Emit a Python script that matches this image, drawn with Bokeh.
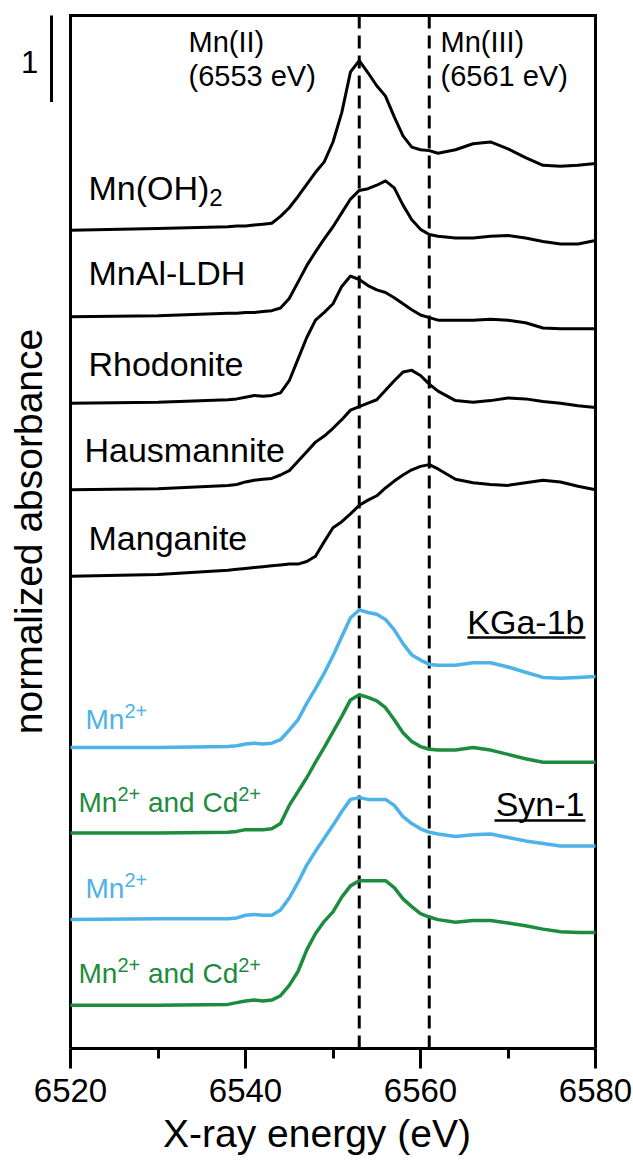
import numpy as np
from bokeh.plotting import figure
from bokeh.models import Range1d, FixedTicker
from bokeh.core.properties import value
from bokeh.embed import file_html
from bokeh.resources import INLINE

# ---------------- data ----------------
energy = [6520, 6530, 6538, 6539, 6540, 6541, 6542, 6543, 6544, 6545, 6546, 6547,
          6548, 6549, 6550, 6551, 6552, 6553, 6554, 6555, 6556, 6557, 6558, 6559,
          6560, 6561, 6562, 6564, 6566, 6568, 6570, 6572, 6574, 6576, 6578, 6580]

mn_oh2 = [-0.04, -0.02, 0.00, 0.01, 0.01, 0.02, 0.03, 0.04, 0.12, 0.22, 0.35, 0.49,
          0.63, 0.75, 0.98, 1.32, 1.79, 1.92, 1.78, 1.63, 1.51, 1.27, 1.05, 0.92,
          0.89, 0.88, 0.85, 0.89, 0.96, 0.98, 0.90, 0.80, 0.71, 0.70, 0.71, 0.73]
mnal_ldh = [-0.04, -0.03, 0.00, 0.00, 0.01, 0.01, 0.02, 0.03, 0.06, 0.17, 0.36, 0.55,
            0.71, 0.86, 1.00, 1.16, 1.32, 1.42, 1.44, 1.48, 1.53, 1.45, 1.25, 1.08,
            0.97, 0.91, 0.89, 0.87, 0.87, 0.89, 0.90, 0.87, 0.83, 0.80, 0.80, 0.84]
rhodonite = [-0.04, -0.03, 0.00, 0.01, 0.03, 0.05, 0.04, 0.05, 0.08, 0.22, 0.47, 0.72,
             0.92, 1.01, 1.11, 1.31, 1.43, 1.39, 1.32, 1.27, 1.24, 1.18, 1.11, 1.04,
             0.98, 0.95, 0.92, 0.92, 0.92, 0.93, 0.92, 0.89, 0.83, 0.82, 0.82, 0.82]
hausmannite = [-0.04, -0.03, 0.01, 0.02, 0.05, 0.07, 0.08, 0.09, 0.13, 0.18, 0.29, 0.40,
               0.51, 0.58, 0.67, 0.77, 0.88, 0.92, 0.96, 1.00, 1.11, 1.22, 1.32, 1.34,
               1.28, 1.18, 1.10, 0.99, 0.97, 0.99, 1.02, 1.01, 0.98, 0.96, 0.93, 0.91]
manganite = [-0.04, -0.02, 0.03, 0.04, 0.05, 0.06, 0.07, 0.08, 0.09, 0.10, 0.10, 0.13,
             0.19, 0.36, 0.52, 0.59, 0.68, 0.78, 0.84, 0.89, 0.98, 1.06, 1.13, 1.19,
             1.23, 1.25, 1.20, 1.08, 1.04, 1.02, 1.01, 1.04, 1.07, 1.05, 1.00, 0.96]
kga_mn = [-0.02, -0.02, -0.01, 0.00, 0.02, 0.03, 0.02, 0.03, 0.07, 0.18, 0.30, 0.49,
          0.66, 0.84, 1.04, 1.26, 1.48, 1.57, 1.54, 1.52, 1.46, 1.34, 1.18, 1.05,
          0.99, 0.94, 0.93, 0.93, 0.96, 0.96, 0.91, 0.85, 0.79, 0.78, 0.79, 0.80]
kga_mncd = [-0.01, -0.01, 0.00, 0.01, 0.03, 0.03, 0.03, 0.04, 0.10, 0.31, 0.47, 0.63,
            0.81, 0.98, 1.16, 1.34, 1.53, 1.59, 1.56, 1.52, 1.44, 1.30, 1.15, 1.05,
            0.99, 0.96, 0.95, 0.95, 0.98, 0.95, 0.90, 0.85, 0.81, 0.81, 0.81, 0.81]
syn_mn = [-0.01, 0.00, 0.00, 0.01, 0.04, 0.05, 0.04, 0.04, 0.10, 0.24, 0.42, 0.62,
          0.78, 0.93, 1.08, 1.24, 1.38, 1.40, 1.38, 1.38, 1.38, 1.31, 1.18, 1.10,
          1.04, 1.00, 0.98, 0.95, 0.97, 0.98, 0.94, 0.90, 0.87, 0.84, 0.84, 0.84]
syn_mncd = [0.00, 0.00, 0.01, 0.03, 0.05, 0.06, 0.05, 0.06, 0.11, 0.23, 0.39, 0.64,
            0.83, 0.97, 1.08, 1.25, 1.38, 1.44, 1.44, 1.44, 1.44, 1.36, 1.23, 1.14,
            1.06, 1.02, 0.99, 0.96, 0.98, 0.98, 0.95, 0.92, 0.88, 0.85, 0.84, 0.84]

spectra = [mn_oh2, mnal_ldh, rhodonite, hausmannite, manganite,
           kga_mn, kga_mncd, syn_mn, syn_mncd]
offsets = [9, 8, 7, 6, 5, 3, 2, 1, 0]

ref_energies = [6553, 6561]
ref_labels = [["Mn(II)", "(6553 eV)"], ["Mn(III)", "(6561 eV)"]]
x_ticks = [6520, 6540, 6560, 6580]
x_minor = [6530, 6550, 6570]

BLUE = "#4DB2E8"
GREEN = "#1E8C3E"
colors = ["black"] * 5 + [BLUE, GREEN, BLUE, GREEN]
widths = [3] * 5 + [3.5] * 4
FONT = "Liberation Sans"

# ---------------- layout ----------------
PX_X = 8.75   # px per eV
PX_Y = 86.5   # px per absorbance unit
FRAME_W, FRAME_H = 633, 1048
x0 = 6520 - 70 / PX_X
x1 = x0 + FRAME_W / PX_X
y0 = -0.5
y1 = y0 + FRAME_H / PX_Y


def sx(px):  # page x -> data x (for annotation placement)
    return 6520 + (px - 70) / PX_X


def sy(py):  # page y -> data y
    return y0 + (1048 - py) / PX_Y


top = sy(15)
xl, xr = x_ticks[0], x_ticks[-1]

p = figure(frame_width=FRAME_W, frame_height=FRAME_H,
           x_range=Range1d(x0, x1), y_range=Range1d(y0, y1),
           output_backend="svg", toolbar_location=None, y_axis_location=None,
           min_border_left=0, min_border_right=0, min_border_top=0,
           min_border_bottom=119)
p.outline_line_color = None
p.grid.visible = False

# frame box (left, top, right edges; bottom is the x axis)
p.multi_line(xs=[[xl, xl], [xl, xr], [xr, xr]],
             ys=[[y0, top], [top, top], [top, y0]],
             line_color="black", line_width=3, line_cap="square")

# x axis
ax = p.xaxis[0]
ax.bounds = (xl, xr)
ax.ticker = FixedTicker(ticks=x_ticks, minor_ticks=x_minor)
ax.axis_line_width = 3
ax.major_tick_line_width = 3
ax.minor_tick_line_width = 3
ax.major_tick_in = 0
ax.major_tick_out = 20
ax.minor_tick_in = 0
ax.minor_tick_out = 10
ax.major_label_text_font = FONT
ax.major_label_text_font_size = "33px"
ax.major_label_text_color = "black"
ax.major_label_standoff = 10
ax.axis_label = "X-ray energy (eV)"
ax.axis_label_text_font = FONT
ax.axis_label_text_font_size = "39px"
ax.axis_label_text_font_style = "normal"
ax.axis_label_text_color = "black"
ax.axis_label_standoff = 7

# reference dashed lines
p.segment(x0=ref_energies, y0=[y0] * len(ref_energies), x1=ref_energies,
          y1=[top] * len(ref_energies), line_color="black", line_width=3,
          line_dash="13 7")

# spectra
for vals, off, c, w in zip(spectra, offsets, colors, widths):
    p.line(energy, np.array(vals) + off, line_color=c, line_width=w,
           line_join="round")

# text helpers
CW = {'M': .833, 'n': .556, 'a': .556, 'd': .556, 'C': .722, ' ': .278, '2': .556,
      '+': .584, '(': .333, ')': .333, 'O': .778, 'H': .722}


def runs(px, py, parts, color):
    x = px
    for txt, size, dy in parts:
        lead = len(txt) - len(txt.lstrip(" "))
        x += lead * CW[' '] * size
        t = txt.strip(" ")
        p.text(x=[sx(x)], y=[sy(py - dy)], text=[t], text_font=value(FONT),
               text_font_size=f"{size}px", text_color=color,
               text_align="left", text_baseline="middle")
        x += sum(CW.get(ch, .556) for ch in t) * size


def label(px, py, txt, size, color="black", align="left", angle=0.0):
    p.text(x=[sx(px)], y=[sy(py)], text=[txt], text_font=value(FONT),
           text_font_size=f"{size}px", text_color=color, text_align=align,
           text_baseline="middle", angle=angle)


# reference energy annotations
label(188, 41, ref_labels[0][0], 29)
label(188, 75, ref_labels[0][1], 29)
label(440, 41, ref_labels[1][0], 29)
label(440, 75, ref_labels[1][1], 29)

# reference compound labels
runs(88, 187, [("Mn(OH)", 34, 0), ("2", 24, -10)], "black")
label(88, 272, "MnAl-LDH", 34)
label(88, 363, "Rhodonite", 34)
label(84, 449, "Hausmannite", 34)
label(88, 537, "Manganite", 34)

# clay sample labels
label(584, 621, "KGa-1b", 34, align="right")
label(584, 803, "Syn-1", 34, align="right")
p.segment(x0=[sx(467), sx(494)], y0=[sy(637), sy(820)],
          x1=[sx(585), sx(585)], y1=[sy(637), sy(820)],
          line_color="black", line_width=2.5)

sup = [("Mn", 28, 0), ("2+", 20, 9)]
both = [("Mn", 28, 0), ("2+", 20, 9), (" and Cd", 28, 0), ("2+", 20, 9)]
runs(85, 719, sup, BLUE)
runs(78, 802, both, GREEN)
runs(85, 888, sup, BLUE)
runs(78, 973, both, GREEN)

# scale bar
p.segment(x0=[sx(51)], y0=[top - 1.0], x1=[sx(51)], y1=[top], line_color="black",
          line_width=3)
label(29, 61, "1", 31, align="center")

# y label
label(28, 531, "normalized absorbance", 39, align="center", angle=np.pi / 2)

open("out.html", "w").write(file_html(p, INLINE))
